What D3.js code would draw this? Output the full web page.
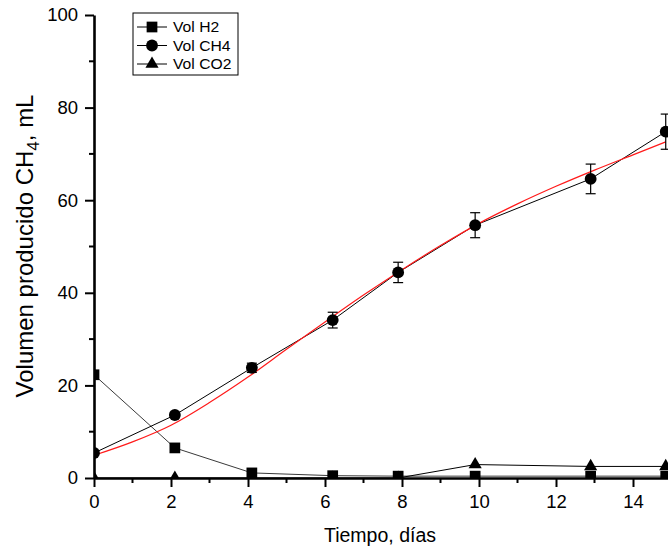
<!DOCTYPE html>
<html>
<head>
<meta charset="utf-8">
<script src="https://cdn.jsdelivr.net/npm/d3@7"></script>
<style>
  html, body { margin: 0; padding: 0; background: #fff; }
  svg { display: block; font-family: "Liberation Sans", Arial, sans-serif; }
</style>
</head>
<body>
<svg id="chart" width="668" height="550"></svg>
<script>
// Sampling days for each gas measurement
const days = [0, 2.1, 4.1, 6.2, 7.9, 9.9, 12.9, 14.85];
// Accumulated gas volume (mL)
const volH2  = [22.3, 6.5, 1.1, 0.5, 0.4, 0.4, 0.4, 0.4];
const volCH4 = [5.4, 13.6, 23.8, 34.1, 44.4, 54.6, 64.6, 74.8];
const errCH4 = [0.4, 0.6, 1.0, 1.7, 2.2, 2.7, 3.2, 3.8];
const volCO2 = [0, 0, 0, 0, 0, 2.9, 2.5, 2.5];
// Fitted CH4 production curve
const fitDays = [0, 1, 2, 3, 4, 5, 6, 7, 8, 9, 10, 11, 12, 13, 14, 14.85];
const fitCH4  = [4.9, 7.8, 11.4, 16.3, 21.8, 27.8, 33.7, 39.5, 45.0, 50.2, 55.0, 59.2, 63.0, 66.5, 69.8, 72.6];
// Axis ticks
const xTicks = [0, 2, 4, 6, 8, 10, 12, 14];
const xMinor = [1, 3, 5, 7, 9, 11, 13, 15];
const yTicks = [0, 20, 40, 60, 80, 100];
const yMinor = [10, 30, 50, 70, 90];
const seriesNames = ["Vol H2", "Vol CH4", "Vol CO2"];

const svg = d3.select("#chart");
const x = d3.scaleLinear().domain([0, 16]).range([94, 94 + 38.5 * 16]);
const y = d3.scaleLinear().domain([0, 100]).range([478, 15]);

// Data are clipped to the plotting frame
svg.append("defs").append("clipPath").attr("id", "plotArea")
  .append("rect").attr("x", x(0)).attr("y", 0).attr("width", 700).attr("height", y(0));

const symSquare = d3.symbol().type(d3.symbolSquare).size(115);
const symCircle = d3.symbol().type(d3.symbolCircle).size(110);
const symTri = d3.symbol().type(d3.symbolTriangle).size(75);
const symbols = [symSquare, symCircle, symTri];

const line = d3.line().x(d => x(d[0])).y(d => y(d[1]));
const plot = svg.append("g").attr("clip-path", "url(#plotArea)");

// Connecting lines
const seriesData = [volH2, volCH4, volCO2].map(v => days.map((d, i) => [d, v[i]]));
const lineColors = ["#3a3a3a", "#000", "#000"];
seriesData.forEach((s, i) => {
  plot.append("path").attr("d", line(s)).attr("fill", "none")
    .attr("stroke", lineColors[i]).attr("stroke-width", 1);
});

// Fitted curve
plot.append("path")
  .attr("d", d3.line().curve(d3.curveMonotoneX).x(d => x(d[0])).y(d => y(d[1]))(fitDays.map((d, i) => [d, fitCH4[i]])))
  .attr("fill", "none").attr("stroke", "#ff1a1a").attr("stroke-width", 1.2);

// Error bars for CH4
const eb = plot.append("g").attr("stroke", "#000").attr("stroke-width", 1.2);
days.forEach((d, i) => {
  const cx = x(d), y1 = y(volCH4[i] - errCH4[i]), y2 = y(volCH4[i] + errCH4[i]);
  eb.append("line").attr("x1", cx).attr("x2", cx).attr("y1", y1).attr("y2", y2);
  eb.append("line").attr("x1", cx - 5).attr("x2", cx + 5).attr("y1", y1).attr("y2", y1);
  eb.append("line").attr("x1", cx - 5).attr("x2", cx + 5).attr("y1", y2).attr("y2", y2);
});

// Markers
seriesData.forEach((s, i) => {
  plot.append("g").selectAll("path").data(s).join("path")
    .attr("d", symbols[i])
    .attr("transform", d => `translate(${x(d[0])},${y(d[1])})`)
    .attr("fill", "#000");
});

// Axes
const xAxis = svg.append("g").attr("transform", `translate(0,${y(0)})`)
  .call(d3.axisBottom(x).tickValues(xTicks).tickSize(9).tickSizeOuter(0).tickPadding(8));
xAxis.append("g").selectAll("line").data(xMinor).join("line")
  .attr("x1", d => x(d)).attr("x2", d => x(d)).attr("y1", 0).attr("y2", 5).attr("stroke", "#000").attr("stroke-width", 2);
const yAxis = svg.append("g").attr("transform", `translate(${x(0)},0)`)
  .call(d3.axisLeft(y).tickValues(yTicks).tickSize(9).tickSizeOuter(0).tickPadding(7));
yAxis.append("g").selectAll("line").data(yMinor).join("line")
  .attr("x1", 0).attr("x2", -5).attr("y1", d => y(d)).attr("y2", d => y(d)).attr("stroke", "#000").attr("stroke-width", 2);
[xAxis, yAxis].forEach(a => {
  a.select(".domain").attr("stroke", "#000").attr("stroke-width", 2.6);
  a.selectAll(".tick line").attr("stroke", "#000").attr("stroke-width", 2);
  a.selectAll(".tick text").attr("font-size", 18.5).attr("fill", "#000")
    .attr("font-family", "Liberation Sans, Arial, sans-serif");
});

// Axis titles
svg.append("text").attr("x", 380).attr("y", 542).attr("text-anchor", "middle")
  .attr("font-size", 19.5).text("Tiempo, días");
const yt = svg.append("text").attr("transform", "translate(33,246) rotate(-90)")
  .attr("text-anchor", "middle").attr("font-size", 24);
yt.append("tspan").text("Volumen producido CH");
yt.append("tspan").attr("font-size", 17).attr("dy", 6).text("4");
yt.append("tspan").attr("dy", -6).text(", mL");

// Legend
const lg = svg.append("g").attr("transform", "translate(133,13)");
lg.append("rect").attr("width", 105).attr("height", 62).attr("fill", "#fff")
  .attr("stroke", "#000").attr("stroke-width", 1);
seriesNames.forEach((n, i) => {
  const ly = 14 + i * 18.5;
  lg.append("line").attr("x1", 4).attr("x2", 34).attr("y1", ly).attr("y2", ly).attr("stroke", "#000");
  lg.append("path").attr("d", symbols[i]).attr("transform", `translate(19,${ly})`).attr("fill", "#000");
  lg.append("text").attr("transform", `translate(40,${ly + 5}) scale(1.12,1)`)
    .attr("font-size", 14).text(n);
});
</script>
</body>
</html>
